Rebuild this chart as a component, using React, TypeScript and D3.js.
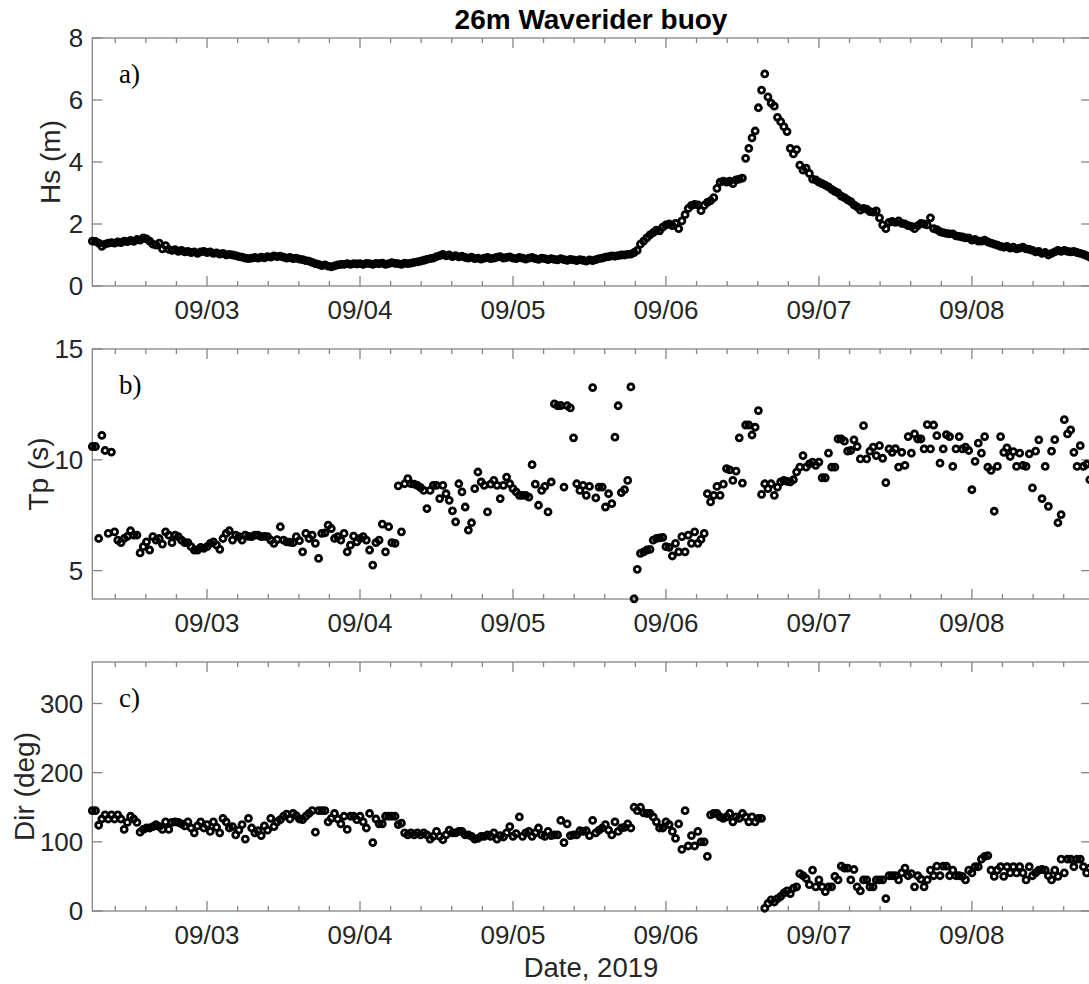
import React from "react";
import * as d3 from "d3";

const WIDTH = 1089;
const HEIGHT = 984;

// Half-hourly record, first sample 2019-09-02 06:00 UTC
const seriesStart = Date.UTC(2019, 8, 2, 6, 0);
const sampleMinutes = 30;
const axisEnd = Date.UTC(2019, 8, 8, 18, 43);

// Significant wave height (m)
const hsValues = [
  1.45, 1.44, 1.38, 1.28, 1.35, 1.38, 1.4, 1.38, 1.42, 1.4,
  1.45, 1.43, 1.47, 1.44, 1.5, 1.48, 1.55, 1.52, 1.45, 1.35,
  1.32, 1.38, 1.2, 1.3, 1.18, 1.15, 1.17, 1.12, 1.15, 1.1,
  1.12, 1.08, 1.1, 1.05, 1.1, 1.12, 1.08, 1.1, 1.05, 1.07,
  1.03, 1.05, 1.0, 1.02, 1.0, 0.98, 0.95, 0.93, 0.9, 0.88,
  0.9, 0.92, 0.9, 0.93, 0.91, 0.95, 0.93, 0.97, 0.95, 0.96,
  0.93, 0.9, 0.92, 0.88, 0.9, 0.87, 0.85, 0.82, 0.8, 0.76,
  0.72, 0.7, 0.66, 0.68, 0.64, 0.62, 0.65, 0.68, 0.7, 0.7,
  0.72, 0.7, 0.72, 0.71, 0.72, 0.7, 0.73, 0.72, 0.7, 0.73,
  0.72, 0.74, 0.7, 0.72, 0.75, 0.73, 0.72, 0.7, 0.74, 0.72,
  0.74, 0.76, 0.78, 0.8, 0.83, 0.86, 0.88, 0.9, 0.95, 0.98,
  1.02, 0.97, 1.0, 0.95, 0.98, 0.94, 0.96, 0.92, 0.9, 0.93,
  0.88, 0.9, 0.87, 0.9, 0.92, 0.88, 0.9, 0.93, 0.95, 0.9,
  0.92, 0.94, 0.9, 0.88, 0.92, 0.9, 0.87, 0.9, 0.92, 0.88,
  0.86, 0.9, 0.88, 0.85, 0.88, 0.86, 0.84, 0.88, 0.85, 0.83,
  0.86, 0.84, 0.82, 0.85, 0.83, 0.8, 0.84, 0.82, 0.85, 0.88,
  0.9, 0.93, 0.95, 0.97, 0.96, 0.98, 1.0, 1.0, 1.02, 1.03,
  1.08, 1.15, 1.35, 1.45, 1.55, 1.65, 1.72, 1.8, 1.78, 1.9,
  1.97, 2.0, 1.95, 2.02, 1.85, 2.1, 2.3, 2.5, 2.6, 2.63,
  2.62, 2.43, 2.6, 2.7, 2.75, 2.85, 3.15, 3.35, 3.38, 3.35,
  3.38, 3.3, 3.42, 3.45, 3.48, 4.12, 4.44, 4.78, 5.0, 5.75,
  6.32, 6.84, 6.1, 5.9, 5.8, 5.44, 5.3, 5.14, 4.98, 4.44,
  4.26, 4.4, 3.9, 3.74, 3.8, 3.63, 3.45, 3.42, 3.35, 3.3,
  3.25, 3.2, 3.12, 3.05, 3.0, 2.9, 2.85, 2.78, 2.72, 2.62,
  2.55, 2.45, 2.5, 2.48, 2.4, 2.38, 2.42, 2.2, 1.97, 1.85,
  2.05, 2.08, 2.05, 2.1, 2.02, 2.0, 1.95, 1.92, 1.85, 1.95,
  2.02, 2.0, 1.97, 2.2, 1.85, 1.82, 1.75, 1.72, 1.7, 1.68,
  1.68, 1.62, 1.6, 1.58, 1.55, 1.55, 1.48, 1.5, 1.45, 1.45,
  1.48, 1.42, 1.38, 1.35, 1.32, 1.28, 1.25, 1.28, 1.22, 1.25,
  1.2, 1.22, 1.25, 1.2, 1.18, 1.15, 1.1, 1.12, 1.05, 1.08,
  1.0, 1.05, 1.1, 1.15, 1.12, 1.15, 1.12, 1.1, 1.12, 1.08,
  1.05, 1.02, 0.98, 0.93,
];

// Peak wave period (s)
const tpValues = [
  10.6, 10.6, 6.45, 11.1, 10.42, 6.68, 10.35, 6.75, 6.38, 6.26,
  6.45, 6.55, 6.8, 6.6, 6.6, 5.8, 6.08, 6.3, 5.93, 6.53,
  6.38, 6.45, 6.2, 6.75, 6.6, 6.26, 6.6, 6.53, 6.38, 6.26,
  6.26, 6.08, 5.93, 5.93, 6.05, 6.0, 6.08, 6.23, 6.3, 6.15,
  5.96, 6.45, 6.68, 6.8, 6.38, 6.6, 6.53, 6.38, 6.6, 6.55,
  6.53, 6.6, 6.6, 6.53, 6.55, 6.53, 6.38, 6.23, 6.4, 6.98,
  6.38, 6.3, 6.28, 6.26, 6.53, 6.35, 5.85, 6.68, 6.45, 6.6,
  6.23, 5.55, 6.68, 6.7, 7.05, 6.9, 6.45, 6.53, 6.38, 6.68,
  5.85, 6.15, 6.56, 6.3, 6.45, 6.53, 6.38, 5.93, 5.25, 6.26,
  6.38, 7.1, 5.85, 6.98, 6.26, 6.23, 8.82, 6.75, 8.92, 9.15,
  8.92, 8.9, 8.85, 8.75, 8.62, 7.8, 8.62, 8.85, 8.85, 8.25,
  8.85, 8.47, 8.17, 7.7, 7.2, 8.92, 8.55, 7.87, 6.83, 7.16,
  8.7, 9.45, 9.0, 8.85, 7.65, 8.9, 9.07, 8.85, 8.25, 8.85,
  9.22, 8.92, 8.7, 8.55, 8.4, 8.4, 8.4, 8.32, 9.78, 8.9,
  7.95, 8.62, 8.8, 7.65, 9.0, 12.52, 12.44, 12.45, 8.77, 12.44,
  12.34, 10.99, 8.92, 8.62, 8.85, 8.4, 8.8, 13.26, 8.28, 8.77,
  8.77, 7.87, 8.47, 8.02, 11.02, 12.44, 8.52, 8.65, 9.07, 13.29,
  3.73, 5.06, 5.78, 5.85, 5.93, 5.96, 6.38, 6.45, 6.48, 6.5,
  6.08, 6.05, 5.66, 6.23, 5.85, 6.53, 5.85, 6.6, 6.23, 6.75,
  6.23, 6.41, 6.68, 8.47, 8.1, 8.4, 8.8, 8.4, 8.9, 9.6,
  9.55, 9.07, 9.49, 10.99, 8.95, 11.57, 11.57, 11.12, 11.47, 12.22,
  8.44, 8.92, 8.7, 8.92, 8.4, 8.77, 9.0, 9.07, 9.03, 9.0,
  9.1, 9.45, 9.67, 10.19, 9.67, 9.82, 9.9, 9.75, 9.9, 9.19,
  9.19, 10.3, 9.67, 9.67, 10.94, 10.94, 10.84, 10.39, 10.42, 10.9,
  10.6, 10.04, 11.54, 10.04, 10.39, 10.57, 10.19, 10.64, 10.07, 8.97,
  10.49, 10.34, 10.5, 9.67, 10.34, 9.75, 11.05, 10.3, 11.17, 10.94,
  10.94, 10.49, 11.59, 10.49, 11.57, 11.09, 9.85, 10.49, 11.14, 11.05,
  9.7, 10.49, 11.05, 10.49, 10.57, 10.42, 8.65, 9.93, 10.75, 10.3,
  11.05, 9.67, 9.52, 7.68, 9.7, 11.05, 10.34, 10.54, 10.15, 10.37,
  9.7, 10.3, 9.75, 9.7, 10.27, 8.73, 10.39, 10.9, 8.25, 9.7,
  7.9, 10.39, 10.91, 7.16, 7.53, 11.81, 11.17, 11.35, 10.34, 9.7,
  10.64, 9.7, 9.8, 9.1,
];

// Peak wave direction (deg)
const dirValues = [
  145, 145, 124, 133, 139, 133, 139, 133, 139, 133,
  118, 128, 137, 133, 128, 114, 118, 120, 120, 122,
  125, 122, 118, 129, 118, 128, 129, 128, 126, 123,
  129, 120, 113, 123, 129, 120, 125, 115, 129, 121,
  113, 134, 129, 120, 122, 110, 117, 125, 104, 134,
  120, 113, 116, 109, 123, 117, 134, 122, 129, 132,
  137, 140, 133, 141, 138, 133, 132, 137, 141, 145,
  114, 145, 145, 145, 129, 134, 141, 133, 126, 137,
  118, 137, 137, 132, 137, 129, 120, 141, 99, 133,
  126, 126, 137, 137, 137, 137, 125, 127, 113, 110,
  113, 110, 113, 110, 113, 110, 104, 108, 115, 108,
  103, 110, 117, 113, 113, 115, 115, 110, 110, 108,
  104, 105, 108, 108, 110, 108, 113, 104, 109, 107,
  113, 122, 108, 112, 136, 108, 113, 115, 108, 113,
  120, 110, 108, 115, 109, 110, 110, 131, 99, 126,
  109, 110, 110, 116, 115, 116, 109, 131, 113, 117,
  120, 125, 117, 110, 129, 115, 120, 121, 126, 120,
  150, 145, 150, 142, 141, 141, 136, 129, 120, 120,
  129, 125, 115, 105, 126, 89, 145, 94, 109, 94,
  115, 100, 100, 79, 139, 141, 141, 136, 134, 136,
  141, 129, 136, 134, 141, 136, 129, 136, 129, 134,
  134, 4, 11, 16, 13, 18, 21, 26, 29, 25,
  33, 35, 54, 51, 47, 38, 59, 35, 45, 35,
  28, 35, 35, 50, 45, 65, 62, 62, 45, 60,
  35, 29, 45, 45, 35, 35, 45, 45, 45, 18,
  51, 51, 51, 45, 55, 62, 51, 54, 35, 51,
  46, 35, 45, 59, 51, 65, 51, 65, 65, 51,
  59, 51, 51, 50, 45, 59, 55, 64, 64, 75,
  79, 80, 59, 50, 59, 64, 50, 64, 55, 64,
  55, 64, 55, 45, 64, 51, 55, 59, 60, 59,
  51, 45, 59, 50, 75, 55, 75, 75, 64, 75,
  75, 64, 55, 62,
];

const hsTicks = [0, 2, 4, 6, 8];
const tpTicks = [5, 10, 15];
const dirTicks = [0, 100, 200, 300];

const panelLetters = ["a)", "b)", "c)"];
const yLabels = ["Hs (m)", "Tp (s)", "Dir (deg)"];
const titleText = "26m Waverider buoy";
const xLabelText = "Date, 2019";

const SANS = "'Liberation Sans', Arial, Helvetica, sans-serif";
const SERIF = "'Liberation Serif', 'Times New Roman', serif";
const AXIS_COLOR = "#858585";
const TEXT_COLOR = "#262626";

const LEFT = 92.3;
const RIGHT = 1091.2;

const x = d3
  .scaleUtc()
  .domain([new Date(seriesStart), new Date(axisEnd)])
  .range([LEFT, RIGHT]);

const sampleTime = (i: number) => new Date(seriesStart + i * sampleMinutes * 60000);

const majorTicks = d3.utcDay.range(new Date(seriesStart), new Date(axisEnd));
const dayZero = Date.UTC(2019, 8, 2);
const minorTicks = d3
  .range(0, 40)
  .map((k) => new Date(dayZero + k * 0.2 * 86400000))
  .filter((d) => d >= new Date(seriesStart) && d <= new Date(axisEnd) && d.getUTCHours() + d.getUTCMinutes() !== 0);
const fmt = d3.utcFormat("%m/%d");

type Panel = {
  values: number[];
  domain: [number, number];
  ticks: number[];
  top: number;
  bottom: number;
  letter: string;
  label: string;
  labelX: number;
};

const panels: Panel[] = [
  { values: hsValues, domain: [0, 8], ticks: hsTicks, top: 38, bottom: 286, letter: panelLetters[0], label: yLabels[0], labelX: 60 },
  { values: tpValues, domain: [3.72, 15], ticks: tpTicks, top: 349, bottom: 599, letter: panelLetters[1], label: yLabels[1], labelX: 48 },
  { values: dirValues, domain: [0, 360], ticks: dirTicks, top: 662, bottom: 911, letter: panelLetters[2], label: yLabels[2], labelX: 34 },
];

function PanelView({ p }: { p: Panel }) {
  const y = d3.scaleLinear().domain(p.domain).range([p.bottom, p.top]);
  const midY = (p.top + p.bottom) / 2;
  return (
    <g>
      <rect x={LEFT} y={p.top} width={RIGHT - LEFT} height={p.bottom - p.top} fill="none" stroke={AXIS_COLOR} strokeWidth={1.3} />
      {majorTicks.map((d, i) => (
        <g key={"M" + i} stroke={AXIS_COLOR} strokeWidth={1.3}>
          <line x1={x(d)} x2={x(d)} y1={p.bottom} y2={p.bottom - 10} />
          <line x1={x(d)} x2={x(d)} y1={p.top} y2={p.top + 10} />
        </g>
      ))}
      {minorTicks.map((d, i) => (
        <g key={"m" + i} stroke={AXIS_COLOR} strokeWidth={1.3}>
          <line x1={x(d)} x2={x(d)} y1={p.bottom} y2={p.bottom - 5} />
          <line x1={x(d)} x2={x(d)} y1={p.top} y2={p.top + 5} />
        </g>
      ))}
      {p.ticks.map((t) => (
        <g key={"y" + t}>
          <line x1={LEFT} x2={LEFT + 10} y1={y(t)} y2={y(t)} stroke={AXIS_COLOR} strokeWidth={1.3} />
          <line x1={RIGHT} x2={RIGHT - 10} y1={y(t)} y2={y(t)} stroke={AXIS_COLOR} strokeWidth={1.3} />
          <text x={LEFT - 9} y={y(t)} dy="0.36em" textAnchor="end" fontFamily={SANS} fontSize={26} fill={TEXT_COLOR}>
            {t}
          </text>
        </g>
      ))}
      {majorTicks.map((d, i) => (
        <text key={"xl" + i} x={x(d)} y={p.bottom + 33} textAnchor="middle" fontFamily={SANS} fontSize={26} fill={TEXT_COLOR}>
          {fmt(d)}
        </text>
      ))}
      <text
        transform={`translate(${p.labelX},${midY}) rotate(-90)`}
        textAnchor="middle"
        fontFamily={SANS}
        fontSize={28}
        fill={TEXT_COLOR}
      >
        {p.label}
      </text>
      <text x={119} y={p.top + 45} fontFamily={SERIF} fontSize={27} fill="#000">
        {p.letter}
      </text>
      <g fill="none" stroke="#000" strokeWidth={2.8}>
        {p.values.map((v, i) => (
          <circle key={i} cx={x(sampleTime(i))} cy={y(v)} r={3.0} />
        ))}
      </g>
    </g>
  );
}

export default function App() {
  return (
    <svg
      width={WIDTH}
      height={HEIGHT}
      viewBox={`0 0 ${WIDTH} ${HEIGHT}`}
      style={{ position: "absolute", left: 0, top: 0, background: "#fff" }}
    >
      <rect x={0} y={0} width={WIDTH} height={HEIGHT} fill="#fff" />
      <text x={591} y={29} textAnchor="middle" fontFamily={SANS} fontWeight="bold" fontSize={28} fill="#000">
        {titleText}
      </text>
      {panels.map((p, i) => (
        <PanelView key={i} p={p} />
      ))}
      <text x={591} y={977} textAnchor="middle" fontFamily={SANS} fontSize={27.5} fill={TEXT_COLOR}>
        {xLabelText}
      </text>
    </svg>
  );
}
